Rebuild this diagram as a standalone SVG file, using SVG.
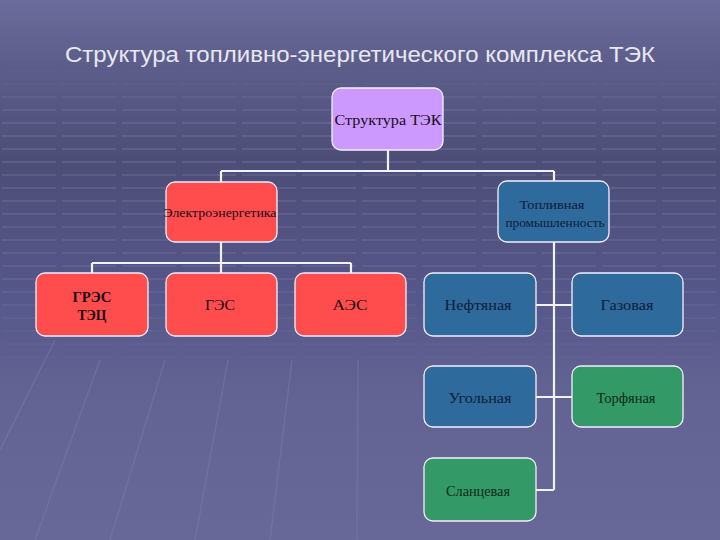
<svg xmlns="http://www.w3.org/2000/svg" width="720" height="540" viewBox="0 0 720 540">
<defs>
<linearGradient id="bg" x1="0" y1="0" x2="0" y2="1">
<stop offset="0" stop-color="#6c6c9c"/>
<stop offset="0.12" stop-color="#5c5d8a"/>
<stop offset="0.3" stop-color="#4d4e77"/>
<stop offset="0.55" stop-color="#56578a"/>
<stop offset="0.75" stop-color="#646494"/>
<stop offset="1" stop-color="#686898"/>
</linearGradient>
<pattern id="grid" width="60" height="13" patternUnits="userSpaceOnUse">
<rect x="2" y="5" width="54" height="2" fill="#8a8ab4" opacity="0.35"/>
</pattern>
<linearGradient id="fade" x1="0" y1="0" x2="0" y2="1">
<stop offset="0" stop-color="#fff" stop-opacity="0"/>
<stop offset="0.2" stop-color="#fff" stop-opacity="0.8"/>
<stop offset="0.7" stop-color="#fff" stop-opacity="0.6"/>
<stop offset="1" stop-color="#fff" stop-opacity="0"/>
</linearGradient>
<mask id="m"><rect x="0" y="60" width="720" height="320" fill="url(#fade)"/></mask>
<style>
.box{stroke:#f4f0ff;stroke-width:1.3}
.purple{fill:#cc99ff}
.red{fill:#ff4c4c}
.blue{fill:#2f6a9c}
.green{fill:#339966}
.t{font-family:"Liberation Serif","Times New Roman",serif;text-anchor:middle}
.dk{fill:#1a0d1a}
.nv{fill:#0c1c38}
.gn{fill:#0d2a1a}
.conn{stroke:#f2f2f8;stroke-width:2.2;fill:none}
</style>
</defs>
<rect width="720" height="540" fill="url(#bg)"/>
<rect x="0" y="60" width="720" height="320" fill="url(#grid)" mask="url(#m)"/>
<g stroke="#7a7aa8" stroke-width="1.5" opacity="0.5" fill="none">
<path d="M55 340 L0 450"/>
<path d="M100 360 L35 540"/>
<path d="M165 360 L110 540"/>
<path d="M228 360 L195 540"/>
<path d="M292 360 L270 540"/>
<path d="M358 360 L357 540"/>
</g>
<text x="360" y="62" font-family="Liberation Sans, Arial, sans-serif" font-size="21.5" fill="#e8e8f0" text-anchor="middle" textLength="590" lengthAdjust="spacingAndGlyphs">Структура топливно-энергетического комплекса ТЭК</text>
<g id="connectors" class="conn">
<path d="M388 150 V171 M221 171 H554 M221 171 V182 M554 171 V182"/>
<path d="M221 242 V263 M92 263 H351 M92 263 V273 M221 263 V273 M351 263 V273"/>
<path d="M554 242 V490 M536 305 H572 M536 397 H572 M536 490 H554"/>
</g>
<g id="n-root"><rect class="box purple" x="332" y="88" width="111" height="62" rx="9"/><text class="t dk" x="388" y="125" font-size="15" textLength="107" lengthAdjust="spacingAndGlyphs">Структура ТЭК</text></g>
<g id="n-elec"><rect class="box red" x="166" y="182" width="111" height="60" rx="9"/><text class="t dk" x="220" y="217" font-size="13" textLength="113" lengthAdjust="spacingAndGlyphs">Электроэнергетика</text></g>
<g id="n-fuel"><rect class="box blue" x="498" y="181" width="111" height="61" rx="9"/><text class="t nv" x="552" y="209" font-size="12" textLength="65" lengthAdjust="spacingAndGlyphs">Топливная</text><text class="t nv" x="555" y="227" font-size="12" textLength="99" lengthAdjust="spacingAndGlyphs">промышленность</text></g>
<g id="n-gres"><rect class="box red" x="36" y="273" width="112" height="63" rx="9"/><text class="t dk" x="92" y="302" font-size="15" font-weight="bold" textLength="39" lengthAdjust="spacingAndGlyphs">ГРЭС</text><text class="t dk" x="92" y="320" font-size="15" font-weight="bold" textLength="29" lengthAdjust="spacingAndGlyphs">ТЭЦ</text></g>
<g id="n-ges"><rect class="box red" x="166" y="273" width="111" height="63" rx="9"/><text class="t dk" x="220" y="310" font-size="15" textLength="30" lengthAdjust="spacingAndGlyphs">ГЭС</text></g>
<g id="n-aes"><rect class="box red" x="295" y="273" width="111" height="63" rx="9"/><text class="t dk" x="350" y="310" font-size="15" textLength="35" lengthAdjust="spacingAndGlyphs">АЭС</text></g>
<g id="n-oil"><rect class="box blue" x="424" y="273" width="112" height="63" rx="9"/><text class="t nv" x="478" y="310" font-size="15" textLength="67" lengthAdjust="spacingAndGlyphs">Нефтяная</text></g>
<g id="n-gas"><rect class="box blue" x="572" y="273" width="111" height="63" rx="9"/><text class="t nv" x="627" y="310" font-size="15" textLength="53" lengthAdjust="spacingAndGlyphs">Газовая</text></g>
<g id="n-coal"><rect class="box blue" x="424" y="366" width="112" height="61" rx="9"/><text class="t nv" x="480" y="403" font-size="15" textLength="63" lengthAdjust="spacingAndGlyphs">Угольная</text></g>
<g id="n-peat"><rect class="box green" x="572" y="366" width="111" height="61" rx="9"/><text class="t gn" x="626" y="403" font-size="14" textLength="59" lengthAdjust="spacingAndGlyphs">Торфяная</text></g>
<g id="n-shale"><rect class="box green" x="424" y="458" width="112" height="63" rx="9"/><text class="t gn" x="478" y="496" font-size="14" textLength="64" lengthAdjust="spacingAndGlyphs">Сланцевая</text></g>
</svg>
